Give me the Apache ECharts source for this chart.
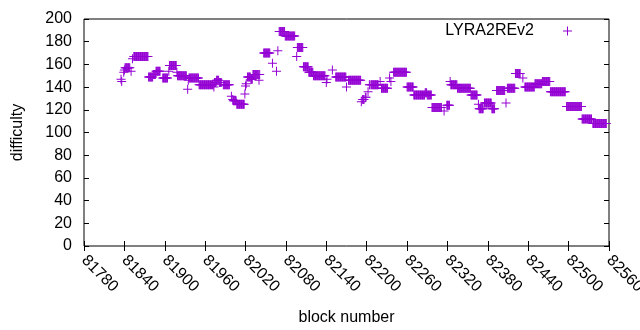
<!DOCTYPE html>
<html><head><meta charset="utf-8">
<script src="https://cdn.jsdelivr.net/npm/echarts@6/dist/echarts.min.js"></script>
<style>html,body{margin:0;padding:0;background:#fff}#c{width:640px;height:330px}</style>
</head><body><div id="c"></div>
<script>
const seriesName = 'LYRA2REv2';
const xLabel = 'block number';
const yLabel = 'difficulty';
const xTicks = [81780, 81840, 81900, 81960, 82020, 82080, 82140, 82200, 82260, 82320, 82380, 82440, 82500, 82560];
const yTicks = [0, 20, 40, 60, 80, 100, 120, 140, 160, 180, 200];

// Runs of blocks sharing one difficulty reading (start block, end block, value)
const runStart = [81835,81836,81839,81840,81841,81850,81852,81854,81876,81883,81887,81897,81906,81907,81918,81919,81934,81935,81936,81951,81973,81974,81977,81981,81987,81999,82001,82002,82007,82019,82020,82021,82023,82028,82031,82040,82041,82047,82060,82066,82068,82070,82079,82096,82097,82106,82114,82121,82140,82141,82149,82154,82170,82173,82192,82194,82198,82202,82204,82207,82220,82222,82234,82236,82240,82260,82270,82287,82290,82297,82315,82319,82324,82325,82335,82355,82366,82367,82375,82386,82393,82407,82409,82421,82432,82435,82450,82461,82473,82497,82520,82536];
const runEnd   = [81835,81836,81839,81840,81848,81850,81852,81875,81882,81886,81893,81904,81906,81917,81918,81932,81934,81935,81950,81972,81973,81976,81980,81984,81996,81999,82001,82006,82018,82019,82020,82021,82027,82030,82039,82040,82041,82056,82060,82066,82068,82078,82093,82096,82105,82113,82120,82138,82140,82141,82149,82169,82170,82191,82192,82196,82199,82202,82205,82217,82220,82231,82234,82236,82259,82269,82286,82289,82296,82311,82315,82323,82324,82334,82354,82364,82366,82373,82385,82390,82405,82407,82420,82428,82432,82449,82460,82472,82495,82519,82534,82556];
const runValue = [147,145,153,155,157,154,165,167,149,151,154,148,154,159,153,150,138,146,148,142,140,144,146,144,142,132,129,128,125,134,141,143,149,147,151,146,151,170,161,154,172,189,185,167,175,158,153,150,144,147,155,149,140,146,127,129,131,136,142,142,145,139,148,145,153,140,133,135,133,122,119,124,145,142,139,133,125,121,126,121,137,126,139,152,148,140,143,145,136,123,112,108];

const points = [];
for (let i = 0; i < runStart.length; i++) {
  for (let b = runStart[i]; b <= runEnd[i]; b++) points.push([b, runValue[i]]);
}

const plusPath = 'path://M0,4H9V5H0Z M4,0H5V9H4Z';
const font = 'Liberation Sans, Arial, sans-serif';
const fs = 16;
const tickCommon = { inside: true, length: 5, lineStyle: { color: '#000', width: 1 } };
const plain = v => String(v);

const chart = echarts.init(document.getElementById('c'), null, { renderer: 'canvas' });
chart.setOption({
  animation: false,
  backgroundColor: '#fff',
  grid: { left: 84, right: 31, top: 19, bottom: 84, show: true, borderColor: '#000', borderWidth: 1,
          backgroundColor: 'transparent', containLabel: false, outerBoundsMode: 'none' },
  legend: {
    right: 68, top: 23, padding: 0, align: 'right', itemWidth: 9, itemHeight: 9,
    textStyle: { fontSize: fs, fontFamily: font, color: '#000', padding: [0, 24, 0, 0] },
    data: [{ name: seriesName, icon: plusPath, itemStyle: { color: '#9400d3' } }]
  },
  xAxis: [
    { type: 'value', min: xTicks[0], max: xTicks[xTicks.length - 1], interval: 60, position: 'bottom',
      axisLine: { show: false }, axisTick: tickCommon, splitLine: { show: false },
      axisLabel: { rotate: -45, color: '#000', fontSize: fs, fontFamily: font, margin: 12, formatter: plain, showMinLabel: true, showMaxLabel: true, hideOverlap: false },
      name: xLabel, nameLocation: 'middle', nameGap: 64, nameTextStyle: { fontSize: fs, fontFamily: font, color: '#000' } },
    { type: 'value', min: xTicks[0], max: xTicks[xTicks.length - 1], interval: 60, position: 'top',
      axisLine: { show: false }, axisTick: tickCommon, splitLine: { show: false }, axisLabel: { show: false } }
  ],
  yAxis: [
    { type: 'value', min: yTicks[0], max: yTicks[yTicks.length - 1], interval: 20, position: 'left',
      axisLine: { show: false }, axisTick: tickCommon, splitLine: { show: false },
      axisLabel: { color: '#000', fontSize: fs, fontFamily: font, margin: 12, formatter: plain },
      name: yLabel, nameLocation: 'middle', nameGap: 58, nameRotate: 90, nameTextStyle: { fontSize: fs, fontFamily: font, color: '#000' } },
    { type: 'value', min: yTicks[0], max: yTicks[yTicks.length - 1], interval: 20, position: 'right',
      axisLine: { show: false }, axisTick: tickCommon, splitLine: { show: false }, axisLabel: { show: false } }
  ],
  series: [{
    name: seriesName, type: 'scatter', xAxisIndex: 0, yAxisIndex: 0,
    symbol: plusPath, symbolSize: 9, itemStyle: { color: '#9400d3', opacity: 1 },
    data: points
  }]
});
</script>
</body></html>
